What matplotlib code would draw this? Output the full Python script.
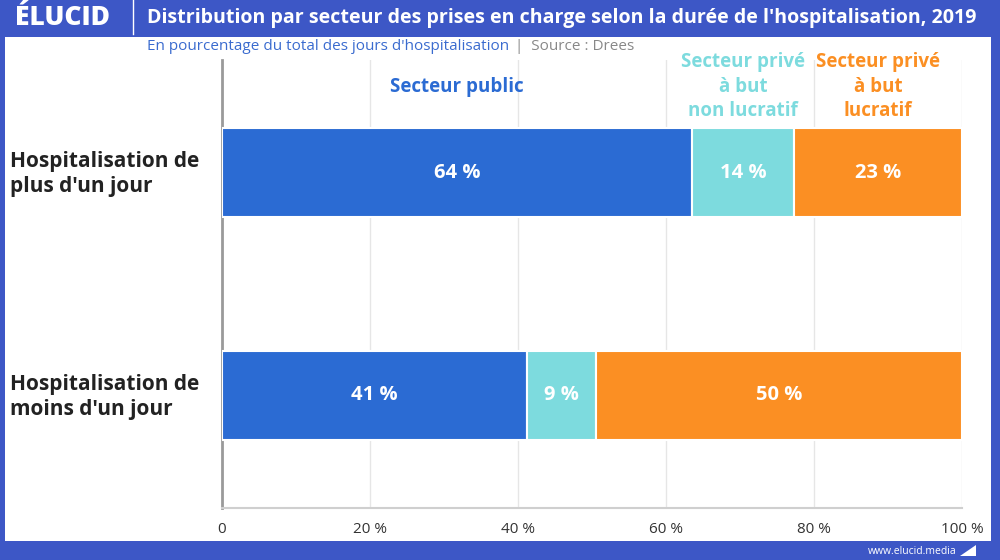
import matplotlib
matplotlib.use("Agg")
import matplotlib.pyplot as plt
from matplotlib.patches import Rectangle, Polygon

plt.rcParams['font.family'] = ['Open Sans', 'DejaVu Sans']

categories = ["Hospitalisation de\nplus d'un jour", "Hospitalisation de\nmoins d'un jour"]
series_names = ["Secteur public", "Secteur privé\nà but\nnon lucratif", "Secteur privé\nà but\nlucratif"]
public = [63.5, 41.2]
prive_nl = [13.8, 9.3]
prive_l = [22.7, 49.5]
value_labels = [["64 %", "41 %"], ["14 %", "9 %"], ["23 %", "50 %"]]
xticks = [0, 20, 40, 60, 80, 100]
xtick_labels = ["0", "20 %", "40 %", "60 %", "80 %", "100 %"]

colors = ["#2B6BD3", "#7DDBDE", "#FB8F23"]
frame_blue = "#3D57C6"

W, H = 1000, 560
fig = plt.figure(figsize=(W / 100, H / 100), dpi=100)
fig.patch.set_facecolor(frame_blue)

# white panel
fig.patches.append(Rectangle((5 / W, 1 - 541 / H), (991 - 5) / W, (541 - 37) / H,
                             transform=fig.transFigure, facecolor="white", edgecolor="none", zorder=-10))

ax = fig.add_axes([222 / W, 1 - 508 / H, (962 - 222) / W, (508 - 60) / H])
ax.set_facecolor("none")
ax.set_zorder(2)

ypos = [0, 1]
series = [public, prive_nl, prive_l]
left = [0.0, 0.0]
for i, vals in enumerate(series):
    ax.barh(ypos, vals, left=left, height=0.40, color=colors[i], edgecolor="white",
            linewidth=1.5, zorder=3)
    for j, v in enumerate(vals):
        ax.text(left[j] + v / 2, ypos[j], value_labels[i][j], ha="center", va="center",
                color="white", fontsize=14.5, fontweight="bold", zorder=4)
    ax.text(left[0] + vals[0] / 2, -0.386, series_names[i],
            ha="center", va="center", color=colors[i],
            fontsize=13.5, fontweight="bold", linespacing=1.3, zorder=4)
    left = [left[k] + vals[k] for k in range(2)]

ax.set_xlim(0, 100)
ax.set_ylim(1.507, -0.507)
ax.set_xticks(xticks)
ax.set_xticklabels(xtick_labels, fontsize=11, color="#333333")
ax.tick_params(axis="x", length=0, pad=10)
ax.set_yticks([])
ax.grid(axis="x", color="#E6E6E6", linewidth=1, zorder=0)
for s in ["top", "right"]:
    ax.spines[s].set_visible(False)
ax.spines["left"].set_color("#9A9A9A")
ax.spines["left"].set_linewidth(2)
ax.spines["bottom"].set_color("#CFCFCF")
ax.spines["bottom"].set_linewidth(1.5)

# category labels
for j, cat in enumerate(categories):
    yc = [174, 397][j]
    fig.text(10 / W, 1 - yc / H, cat, ha="left", va="center", fontsize=15,
             fontweight="bold", color="#222222", linespacing=1.3)

# header
fig.text(15 / W, 1 - 18 / H, "ÉLUCID", ha="left", va="center", fontsize=19,
         fontweight="heavy", color="white")
fig.add_artist(plt.Line2D([133 / W, 133 / W], [1 - 0 / H, 1 - 34 / H], color="white",
                          linewidth=1, transform=fig.transFigure))
fig.text(147 / W, 1 - 18 / H,
         "Distribution par secteur des prises en charge selon la durée de l'hospitalisation, 2019",
         ha="left", va="center", fontsize=14.15, fontweight="bold", color="white")
t1 = fig.text(147 / W, 1 - 47 / H, "En pourcentage du total des jours d'hospitalisation",
              ha="left", va="center", fontsize=11, color="#3A6BCF")
fig.canvas.draw()
bb = t1.get_window_extent()
x2 = bb.x1 / W
fig.text(x2 + 6 / W, 1 - 47 / H, "|  Source : Drees", ha="left", va="center",
         fontsize=11, color="#888888")

# footer
fig.text(957 / W, 1 - 551 / H, "www.elucid.media", ha="right", va="center",
         fontsize=7.5, color="white")
fig.patches.append(Polygon([(960 / W, 1 - 556 / H), (976 / W, 1 - 556 / H), (976 / W, 1 - 545 / H)],
                           closed=True, transform=fig.transFigure, facecolor="white", edgecolor="none"))

fig.savefig("out.png", dpi=100, facecolor=fig.get_facecolor())
